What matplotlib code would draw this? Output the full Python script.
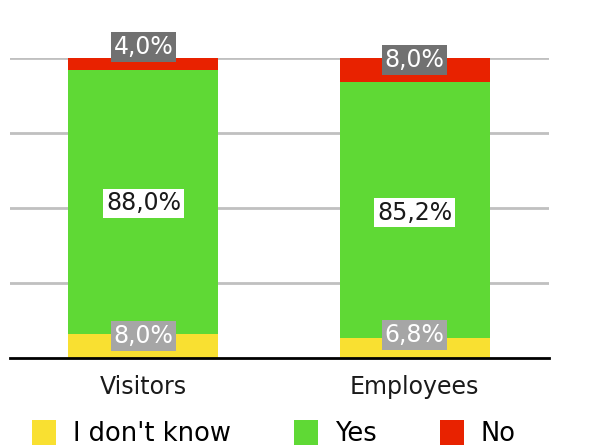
import matplotlib
matplotlib.use("Agg")
import matplotlib.pyplot as plt
import numpy as np

# data
groups = ["Visitors", "Employees"]
dont_know = [8.0, 6.8]
yes = [88.0, 85.2]
no = [4.0, 8.0]
series_names = ["I don't know", "Yes", "No"]

colors = ["#f9e031", "#5fd935", "#e82200"]
label_box = ["#a6a6a6", "#ffffff", "#717171"]
label_txt = ["white", "#1a1a1a", "white"]
# vertical nudge of the value labels (points), per series and group
nudges = [[7, 9], [-1, -2], [12, 7]]

plt.rcParams["font.family"] = "DejaVu Sans"

fig = plt.figure(figsize=(5.94, 4.46), dpi=100)
ax = fig.add_axes([10 / 594, 1 - 358 / 446, 539 / 594, 300 / 446])

x = np.arange(len(groups))
width = 0.553
bottom = np.zeros(len(groups))
values = [dont_know, yes, no]
for i, vals in enumerate(values):
    vals = np.array(vals)
    ax.bar(x, vals, width, bottom=bottom, color=colors[i], label=series_names[i], zorder=2)
    for j in range(len(groups)):
        txt = ("%.1f%%" % vals[j]).replace(".", ",")
        ax.annotate(txt, (x[j], bottom[j] + vals[j] / 2), xytext=(0, nudges[i][j]),
                    textcoords="offset points", ha="center", va="center",
                    fontsize=17, color=label_txt[i], zorder=5, annotation_clip=False,
                    bbox=dict(boxstyle="square,pad=0.12", fc=label_box[i], ec="none"))
    bottom += vals

ax.set_xlim(-0.492, 1.495)
ax.set_ylim(0, 100)
ax.set_yticks([25, 50, 75, 100])
ax.yaxis.grid(True, color="#c0c0c0", linewidth=2, zorder=0)
ax.tick_params(axis="y", left=False, labelleft=False)
ax.set_xticks(x)
ax.set_xticklabels(groups, fontsize=17, color="#1a1a1a")
ax.tick_params(axis="x", length=0, pad=12)
for s in ["top", "right", "left"]:
    ax.spines[s].set_visible(False)
ax.spines["bottom"].set_linewidth(2)
ax.spines["bottom"].set_zorder(3)

# legend runs off the bottom/right edge, as in the original
fig.legend(loc="upper left", bbox_to_anchor=(32 / 594, 1 - 420 / 446), ncol=3,
           frameon=False, fontsize=18.5, handlelength=0.95, handleheight=1.1,
           handletextpad=0.65, columnspacing=2.45, borderpad=0, borderaxespad=0)

fig.savefig("out.png", dpi=100)
